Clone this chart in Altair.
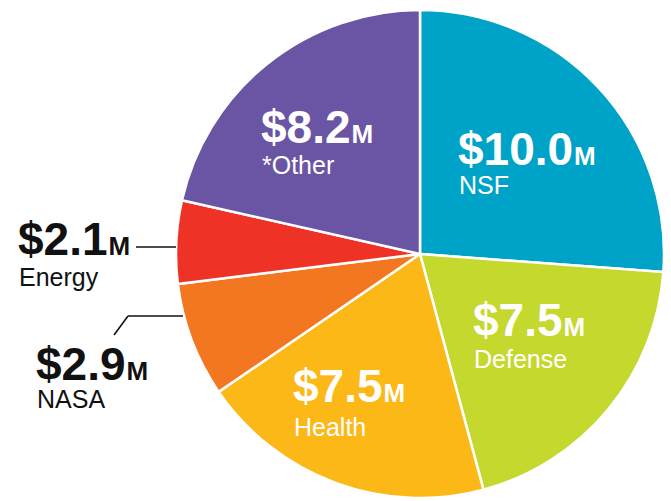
import altair as alt
import pandas as pd

# ---- data ----
names = ["NSF", "Defense", "Health", "NASA", "Energy", "*Other"]
values = [10.0, 7.5, 7.5, 2.9, 2.1, 8.2]
value_labels = ["$10.0", "$7.5", "$7.5", "$2.9", "$2.1", "$8.2"]
colors = ["#00A3C8", "#C5D82E", "#FBB817", "#F37621", "#EE3326", "#6955A4"]

# ---- label layout (page pixel positions, left / baseline) ----
OFF = 8  # page margin
label_x = [458, 473, 293, 36, 18, 261]
value_base = [165, 336, 402, 380, 255, 143]
name_base = [194, 368, 436, 408, 286, 174]
text_fill = ["white", "white", "white", "#111111", "#111111", "white"]

VAL_SIZE = 46
M_SIZE = 26
NAME_SIZE = 25
FONT = "Liberation Sans, Arial, Helvetica, sans-serif"

# approximate advance widths (Arial/Liberation Sans Bold, em units)
adv = {"$": 0.556, ".": 0.278}
def text_width(s, size):
    return sum(adv.get(c, 0.556) for c in s) * size

CX, CY, R = 420, 254, 244

df = pd.DataFrame({
    "name": names,
    "value": values,
    "idx": list(range(len(names))),
})

lab = pd.DataFrame({
    "name": names,
    "vtext": value_labels,
    "vx": [x - OFF for x in label_x],
    "nx": [x - OFF + 1 for x in label_x],
    "mx": [x - OFF + text_width(t, VAL_SIZE) + 1 for x, t in zip(label_x, value_labels)],
    "vy": [y - OFF for y in value_base],
    "ny": [y - OFF for y in name_base],
    "tc": text_fill,
    "m": ["M"] * len(names),
})

pie = alt.Chart(df).mark_arc(outerRadius=R, stroke="white", strokeWidth=2.5).encode(
    theta=alt.Theta("value:Q", stack=True),
    color=alt.Color("name:N", scale=alt.Scale(domain=names, range=colors), legend=None),
    order=alt.Order("idx:Q"),
    x=alt.value(CX - OFF),
    y=alt.value(CY - OFF),
)

base = alt.Chart(lab)
val_text = base.mark_text(align="left", baseline="alphabetic", fontSize=VAL_SIZE,
                          fontWeight="bold", font=FONT).encode(
    x=alt.X("vx:Q", scale=None, axis=None),
    y=alt.Y("vy:Q", scale=None, axis=None),
    text="vtext:N",
    fill=alt.Fill("tc:N", scale=None),
)
m_text = base.mark_text(align="left", baseline="alphabetic", fontSize=M_SIZE,
                        fontWeight="bold", font=FONT).encode(
    x=alt.X("mx:Q", scale=None, axis=None),
    y=alt.Y("vy:Q", scale=None, axis=None),
    text="m:N",
    fill=alt.Fill("tc:N", scale=None),
)
name_text = base.mark_text(align="left", baseline="alphabetic", fontSize=NAME_SIZE,
                           font=FONT).encode(
    x=alt.X("nx:Q", scale=None, axis=None),
    y=alt.Y("ny:Q", scale=None, axis=None),
    text="name:N",
    fill=alt.Fill("tc:N", scale=None),
)

# leader lines (annotations)
leaders = [
    (136, 247, 176, 247),
    (114, 335, 128, 316),
    (128, 316, 183, 316),
]
rules = []
for x1, y1, x2, y2 in leaders:
    rules.append(
        alt.Chart(pd.DataFrame({"a": [0]})).mark_rule(color="#111111", strokeWidth=1.6).encode(
            x=alt.value(x1 - OFF), y=alt.value(y1 - OFF),
            x2=alt.value(x2 - OFF), y2=alt.value(y2 - OFF),
        )
    )

chart = alt.layer(pie, *rules, val_text, m_text, name_text).properties(
    width=655, height=493, padding=0, autosize="none"
).configure_view(stroke=None)

chart.save("out.html", embed_options={"renderer": "svg", "actions": False})
